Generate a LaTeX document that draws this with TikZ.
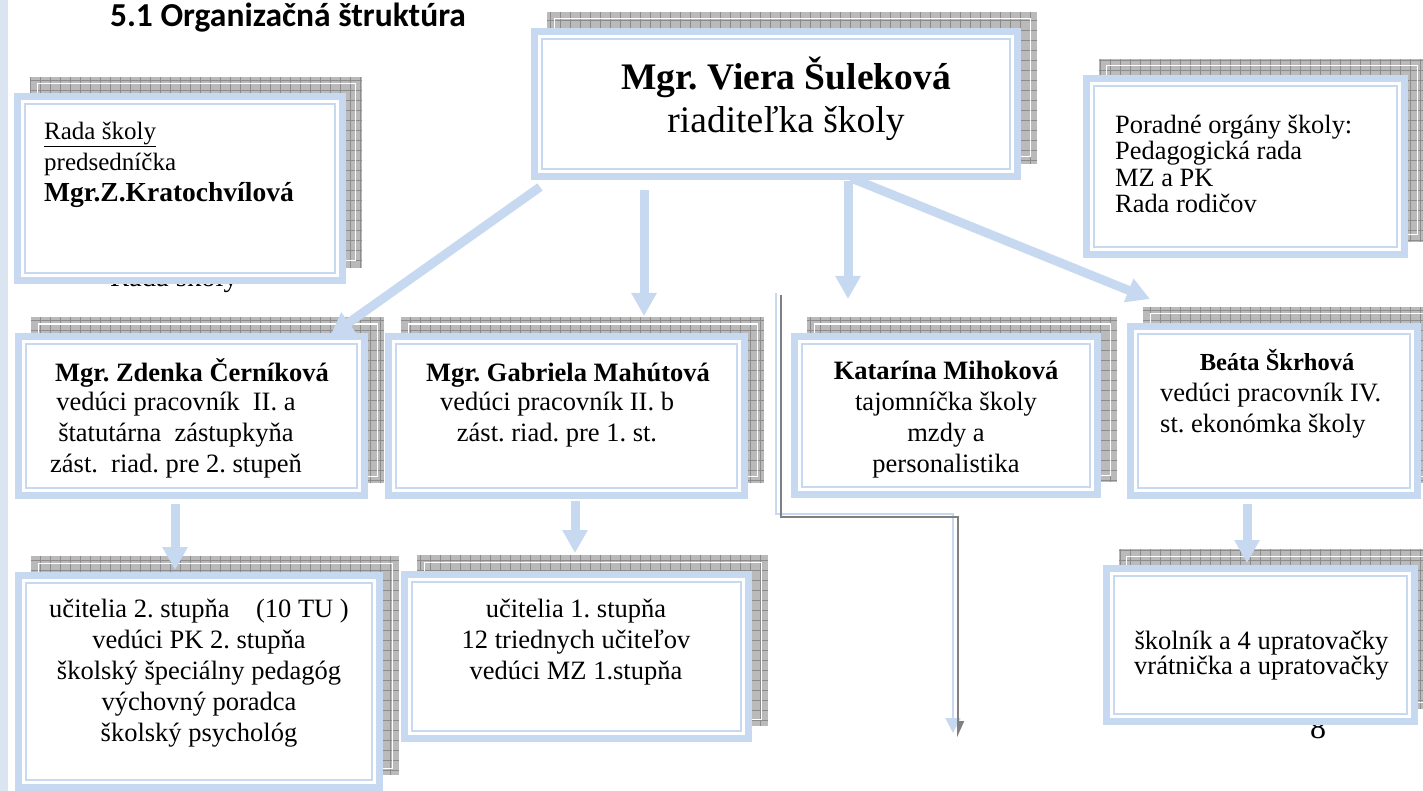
\documentclass[tikz,border=0pt]{standalone}
\usepackage{fontspec}
\setmainfont{Liberation Serif}
\newfontfamily\nadpisfont{Carlito}
\usetikzlibrary{arrows.meta,calc,fit}
\frenchspacing
\definecolor{ramblue}{RGB}{198,217,241}
\definecolor{pasik}{RGB}{219,229,241}
\definecolor{tien}{RGB}{186,186,186}
\definecolor{tienmriezka}{RGB}{140,140,140}
\definecolor{ciarasiva}{RGB}{128,128,128}
% ram so zmriezkovanym tienom: meno, x1, y1, x2, y2
\newcommand\orgbox[5]{%
  \fill[tien] ({#2+16},{#3-16}) rectangle ({#4+16},{#5-16});
  \begin{scope}
    \clip ({#2+16},{#3-16}) rectangle ({#4+16},{#5-16});
    \draw[tienmriezka,line width=0.6pt,step=10pt] ({#2+16},{#5-16}) grid ({#4+16},{#3-16});
  \end{scope}
  \draw[white,line width=1pt] ({#2+23},{#3-9}) rectangle ({#4+9},{#5-23});
  \fill[white] (#2,#3) rectangle (#4,#5);
  \draw[ramblue,line width=7pt] ({#2+3.5},{#3+3.5}) rectangle ({#4-3.5},{#5-3.5});
  \draw[ramblue,line width=2pt] ({#2+11},{#3+11}) rectangle ({#4-11},{#5-11});
  \node[inner sep=0pt,outer sep=0pt,fit={(#2,#3) (#4,#5)}] (#1) {};
}
\tikzset{
  sipka/.style={ramblue,line width=9pt,-{Triangle[width=24pt,length=23pt]}},
  txt/.style={inner sep=0pt,font=\fontsize{26.5}{31}\selectfont,align=center},
}

\begin{document}
\begin{tikzpicture}[x=1pt,y=-1pt]
	\useasboundingbox (0,0) rectangle (1423,791);
	%%%%% POZADIE %%%%%
	\fill[pasik] (0,0) rectangle (8,791);
	\node[anchor=base,inner sep=0pt,font=\nadpisfont\bfseries\fontsize{33.5}{40}\selectfont] (nadpis) at (288,27) {5.1 Organizačná štruktúra};
	\node[anchor=base,inner sep=0pt,font=\fontsize{28.6}{34}\selectfont] (radaskryta) at (174,287) {Rada školy};
	\node[anchor=base,inner sep=0pt,font=\fontsize{32}{38}\selectfont] (strana) at (1318,738) {8};
	
	%%%%% RAMY %%%%%
	\orgbox{rada}{14}{93}{346}{284}
	\orgbox{riad}{531}{28}{1021}{180}
	\orgbox{porad}{1083}{75}{1408}{258}
	\orgbox{cerni}{15}{333}{368}{499}
	\orgbox{mahu}{385}{333}{748}{499}
	\orgbox{miho}{791}{333}{1101}{498}
	\orgbox{skrh}{1127}{323}{1421}{499}
	\orgbox{ucit2}{15}{572}{383}{791}
	\orgbox{ucit1}{401}{571}{752}{742}
	\orgbox{skoln}{1103}{565}{1418}{725}
	
	%%%%% SIPKY %%%%%
	\draw[sipka] ([shift={(9,7)}]riad.south west) -- ([shift={(-38,3)}]cerni.north east);
	\draw[sipka] ([shift={(113,10)}]riad.south west) -- ([shift={(77.5,-17)}]mahu.north);
	\draw[sipka] ([shift={(72,1)}]riad.south) -- ([shift={(-98,-34)}]miho.north);
	\draw[sipka] ([shift={(75,-2)}]riad.south) -- ([shift={(23,-24)}]skrh.north west);
	\draw[sipka] ([shift={(-16.5,5)}]cerni.south) -- ([shift={(-24,-2)}]ucit2.north);
	\draw[sipka] ([shift={(8.5,2)}]mahu.south) -- ([shift={(-1.5,-18)}]ucit1.north);
	\draw[sipka] ([shift={(-27,5)}]skrh.south) -- ([shift={(-13.5,-2)}]skoln.north);
	
	%%%%% TEXTY %%%%%
	\node[txt,anchor=west,align=left,font=\fontsize{25}{31}\selectfont] (radatxt) at (44,164.5)
		{\underline{Rada školy}\\predsedníčka\\{\bfseries\fontsize{27.5}{33}\selectfont Mgr.Z.Kratochvílová}};
	\node[txt,font=\fontsize{37.5}{43}\selectfont] (riadtxt) at (786,99)
		{\textbf{Mgr. Viera Šuleková}\\riaditeľka školy};
	\node[txt,anchor=west,align=left,font=\fontsize{26.4}{26.3}\selectfont] (poradtxt) at (1115,164)
		{Poradné orgány školy:\\Pedagogická rada\\MZ a PK\\Rada rodičov};
	
	\node[txt,anchor=base,font=\bfseries\fontsize{26.5}{31}\selectfont] (cernimeno) at (192,381) {Mgr. Zdenka Černíková};
	\node[txt] (cernitxt) at (176,435.4)
		{vedúci pracovník~ II. a\\štatutárna~ zástupkyňa\\zást.~ riad. pre 2. stupeň};
	\node[txt,anchor=base,font=\bfseries\fontsize{26.5}{31}\selectfont] (mahumeno) at (568,381) {Mgr. Gabriela Mahútová};
	\node[txt] (mahutxt) at (557,420)
		{vedúci pracovník II. b\\zást. riad. pre 1. st.};
	\node[txt] (mihotxt) at (946,420)
		{\textbf{Katarína Mihoková}\\tajomníčka školy\\mzdy a\\personalistika};
	\node[txt,anchor=base,font=\bfseries\fontsize{24.5}{31}\selectfont] (skrhmeno) at (1277,370) {Beáta Škrhová};
	\node[txt,anchor=west,align=left] (skrhtxt) at (1160,411)
		{vedúci pracovník IV.\\st. ekonómka školy};
	
	\node[txt] (ucit2txt) at (199,673.4)
		{učitelia 2. stupňa~~~~(10 TU )\\vedúci PK 2. stupňa\\školský špeciálny pedagóg\\výchovný poradca\\školský psychológ};
	\node[txt] (ucit1txt) at (576,642.4)
		{učitelia 1. stupňa\\12 triednych učiteľov\\vedúci MZ 1.stupňa};
	\node[txt,font=\fontsize{26.5}{25}\selectfont] (skolntxt) at (1261.5,656)
		{školník a 4 upratovačky\\vrátnička a upratovačky};
	
	%%%%% DVOJITA CIARA %%%%%
	\coordinate (ciarazac) at (781,295);
	\coordinate (ciarazlom) at (958,517);
	\coordinate (ciarakon) at (958,737);
	\draw[ramblue,line width=2pt,-{Triangle[width=15pt,length=15pt]}] ([shift={(-5,-2)}]ciarazac) |- ([shift={(-5,-3)}]ciarazlom) -- ([shift={(-5,-4)}]ciarakon);
	\draw[ciarasiva,line width=1.6pt,-{Triangle[width=12pt,length=14pt,left]}] (ciarazac) |- (ciarazlom) -- (ciarakon);
\end{tikzpicture}
\end{document}
